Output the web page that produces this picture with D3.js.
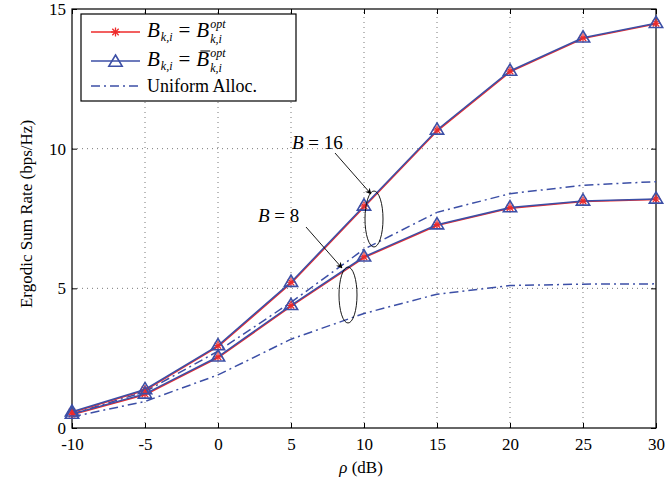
<!DOCTYPE html>
<html>
<head>
<meta charset="utf-8">
<script src="https://cdn.jsdelivr.net/npm/d3@7"></script>
<style>
  body { margin: 0; background: #fff; }
  svg text { font-family: "Liberation Serif", "Times New Roman", "DejaVu Serif", serif; }
</style>
</head>
<body>
<svg id="chart" width="667" height="483"></svg>
<script>
// SNR points (dB)
const snrDb = [-10, -5, 0, 5, 10, 15, 20, 25, 30];
// optimal bit allocation
const optB16 = [0.58, 1.38, 2.95, 5.22, 7.95, 10.67, 12.78, 13.97, 14.49];
const optB8 = [0.50, 1.22, 2.55, 4.39, 6.13, 7.28, 7.89, 8.13, 8.20];
// approximate (bar) allocation - overlaps the optimal one
const barB16 = [0.58, 1.38, 2.95, 5.22, 7.95, 10.67, 12.78, 13.97, 14.49];
const barB8 = [0.50, 1.22, 2.55, 4.39, 6.13, 7.28, 7.89, 8.13, 8.20];
// uniform allocation
const uniB16 = [0.50, 1.30, 2.75, 4.50, 6.40, 7.72, 8.39, 8.69, 8.82];
const uniB8 = [0.40, 0.95, 1.90, 3.18, 4.10, 4.79, 5.10, 5.15, 5.16];

const yTicks = [0, 5, 10, 15];

const RED = '#ee2b2b';
const BLUE = '#3c4fa6';

const svg = d3.select('#chart');
const margin = { left: 72, right: 11, top: 9, bottom: 55 };
const W = 667 - margin.left - margin.right;
const H = 483 - margin.top - margin.bottom;

const x = d3.scaleLinear().domain([-10, 30]).range([margin.left, margin.left + W]);
const y = d3.scaleLinear().domain([0, 15]).range([margin.top + H, margin.top]);

// grid
const grid = svg.append('g').attr('stroke', '#555').attr('stroke-width', 0.8)
  .attr('stroke-dasharray', '1,4');
snrDb.slice(1, -1).forEach(v => {
  grid.append('line').attr('x1', x(v)).attr('x2', x(v)).attr('y1', y(0)).attr('y2', y(15));
});
yTicks.slice(1, -1).forEach(v => {
  grid.append('line').attr('x1', x(-10)).attr('x2', x(30)).attr('y1', y(v)).attr('y2', y(v));
});

// axes with inward ticks
const axisStyle = g => {
  g.select('.domain').remove();
  g.attr('font-family', null);
  g.selectAll('text').attr('font-size', 17).attr('fill', '#000');
};
svg.append('g').attr('transform', `translate(0,${y(0)})`)
  .call(d3.axisBottom(x).tickValues(snrDb).tickSize(-5).tickPadding(10).tickFormat(d => String(d)))
  .call(axisStyle);
svg.append('g').attr('transform', `translate(0,${y(15)})`)
  .call(d3.axisTop(x).tickValues(snrDb).tickSize(-5).tickFormat(''))
  .call(axisStyle);
svg.append('g').attr('transform', `translate(${x(-10)},0)`)
  .call(d3.axisLeft(y).tickValues(yTicks).tickSize(-5).tickPadding(6).tickFormat(d => String(d)))
  .call(axisStyle);
svg.append('g').attr('transform', `translate(${x(30)},0)`)
  .call(d3.axisRight(y).tickValues(yTicks).tickSize(-5).tickFormat(''))
  .call(axisStyle);
svg.append('rect').attr('x', x(-10)).attr('y', y(15)).attr('width', W).attr('height', H)
  .attr('fill', 'none').attr('stroke', '#000').attr('stroke-width', 1.2);

// axis titles
svg.append('text').attr('x', 361).attr('y', 473).attr('text-anchor', 'middle')
  .attr('font-size', 17)
  .call(t => {
    t.append('tspan').attr('font-style', 'italic').text('ρ');
    t.append('tspan').text(' (dB)');
  });
svg.append('text').attr('transform', `translate(32,214) rotate(-90)`)
  .attr('text-anchor', 'middle').attr('font-size', 17).text('Ergodic Sum Rate (bps/Hz)');

// lines
const line = d3.line().x((d, i) => x(snrDb[i])).y(d => y(d));
const plot = svg.append('g');

[uniB16, uniB8].forEach(s => {
  plot.append('path').attr('d', line(s)).attr('fill', 'none').attr('stroke', BLUE)
    .attr('stroke-width', 1.5).attr('stroke-dasharray', '9,4,2,4');
});
[optB16, optB8].forEach(s => {
  plot.append('path').attr('d', line(s)).attr('fill', 'none').attr('stroke', RED)
    .attr('stroke-width', 1.5).attr('transform', 'translate(0.6,0.6)');
});
[barB16, barB8].forEach(s => {
  plot.append('path').attr('d', line(s)).attr('fill', 'none').attr('stroke', BLUE)
    .attr('stroke-width', 1.5);
});

const star = (g, cx, cy, r) => {
  [0, 45, 90, 135].forEach(a => {
    const rad = a * Math.PI / 180;
    g.append('line').attr('x1', cx - r * Math.cos(rad)).attr('y1', cy - r * Math.sin(rad))
      .attr('x2', cx + r * Math.cos(rad)).attr('y2', cy + r * Math.sin(rad))
      .attr('stroke', RED).attr('stroke-width', 1.3);
  });
};
const tri = (g, cx, cy, s) => {
  g.append('path')
    .attr('d', `M${cx},${cy - s} L${cx + s * 0.95},${cy + s * 0.6} L${cx - s * 0.95},${cy + s * 0.6} Z`)
    .attr('fill', 'none').attr('stroke', BLUE).attr('stroke-width', 1.6);
};
[optB16, optB8].forEach(s => s.forEach((v, i) => star(plot, x(snrDb[i]), y(v), 4.5)));
[barB16, barB8].forEach(s => s.forEach((v, i) => tri(plot, x(snrDb[i]), y(v), 7)));

// annotations
const ann = svg.append('g');
ann.append('defs').append('marker').attr('id', 'ah').attr('viewBox', '0 0 10 10')
  .attr('refX', 9).attr('refY', 5).attr('markerWidth', 7).attr('markerHeight', 7)
  .attr('orient', 'auto-start-reverse')
  .append('path').attr('d', 'M0,0 L10,5 L0,10 L3,5 Z').attr('fill', '#000');

const label = (tx, ty, num) => {
  const t = ann.append('text').attr('x', tx).attr('y', ty).attr('font-size', 19);
  t.append('tspan').attr('font-style', 'italic').text('B');
  t.append('tspan').text(' = ' + num);
};
label(292, 149, '16');
ann.append('line').attr('x1', 335).attr('y1', 153).attr('x2', 371).attr('y2', 194)
  .attr('stroke', '#000').attr('stroke-width', 0.9).attr('marker-end', 'url(#ah)');
ann.append('ellipse').attr('cx', 374).attr('cy', 219).attr('rx', 9).attr('ry', 28)
  .attr('fill', 'none').attr('stroke', '#000').attr('stroke-width', 0.9);

label(258, 222, '8');
ann.append('line').attr('x1', 306).attr('y1', 227).attr('x2', 342).attr('y2', 268)
  .attr('stroke', '#000').attr('stroke-width', 0.9).attr('marker-end', 'url(#ah)');
ann.append('ellipse').attr('cx', 348).attr('cy', 295).attr('rx', 9).attr('ry', 28)
  .attr('fill', 'none').attr('stroke', '#000').attr('stroke-width', 0.9);

// legend
const leg = svg.append('g');
leg.append('rect').attr('x', 81).attr('y', 14).attr('width', 215).attr('height', 87)
  .attr('fill', '#fff').attr('stroke', '#000').attr('stroke-width', 1.2);

const rows = [32, 61, 86];
leg.append('line').attr('x1', 91).attr('x2', 140).attr('y1', rows[0]).attr('y2', rows[0])
  .attr('stroke', RED).attr('stroke-width', 1.5);
star(leg, 115.5, rows[0], 4.5);
leg.append('line').attr('x1', 91).attr('x2', 140).attr('y1', rows[1]).attr('y2', rows[1])
  .attr('stroke', BLUE).attr('stroke-width', 1.5);
tri(leg, 115.5, rows[1] + 1, 7);
leg.append('line').attr('x1', 91).attr('x2', 140).attr('y1', rows[2]).attr('y2', rows[2])
  .attr('stroke', BLUE).attr('stroke-width', 1.5).attr('stroke-dasharray', '9,4,2,4');

// math-like legend label: one text, tspans with stacked sup/sub
const mathLabel = (x0, base, withBar) => {
  const t = leg.append('text').attr('x', x0).attr('y', base).attr('font-style', 'italic');
  t.append('tspan').attr('font-size', 21).text('B');
  t.append('tspan').attr('font-size', 12).attr('y', base + 4).attr('dx', 1).text('k,i');
  t.append('tspan').attr('font-size', 21).attr('y', base).attr('dx', 6)
    .attr('font-style', 'normal').text('=');
  const b2 = t.append('tspan').attr('font-size', 21).attr('dx', 6).text('B');
  const sup = t.append('tspan').attr('font-size', 12).attr('y', base - 9).attr('dx', 1).text('opt');
  const supW = sup.node().getComputedTextLength();
  t.append('tspan').attr('font-size', 12).attr('y', base + 6).attr('dx', -supW).text('k,i');
  if (withBar) {
    const bb = b2.node();
    const start = bb.getStartPositionOfChar(0).x;
    const w = bb.getComputedTextLength();
    leg.append('line').attr('x1', start + 4).attr('x2', start + w + 1)
      .attr('y1', base - 15).attr('y2', base - 15)
      .attr('stroke', '#000').attr('stroke-width', 1);
  }
};
mathLabel(147, rows[0] + 5, false);
mathLabel(147, rows[1] + 5, true);
leg.append('text').attr('x', 147).attr('y', rows[2] + 6).attr('font-size', 18).text('Uniform Alloc.');
</script>
</body>
</html>
